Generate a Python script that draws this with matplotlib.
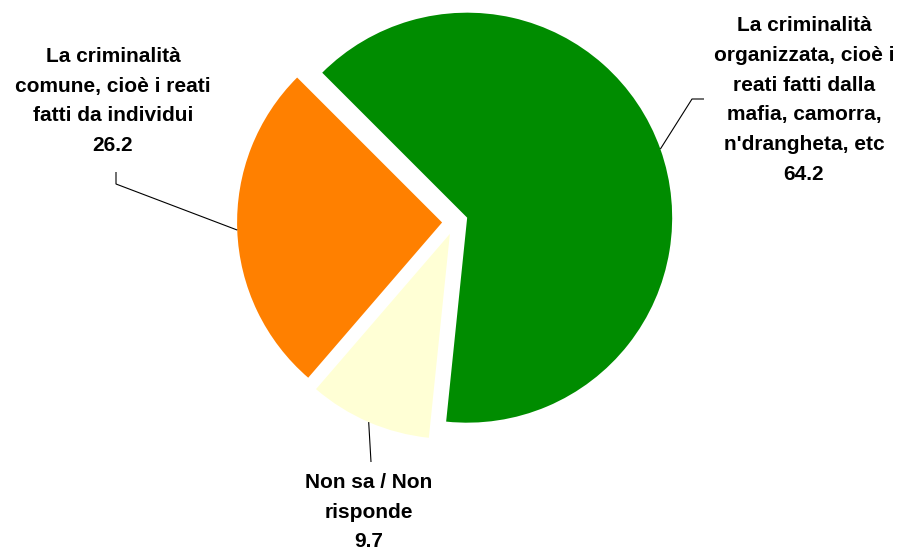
import numpy as np
import matplotlib
matplotlib.use("Agg")
import matplotlib.pyplot as plt

categories = [
    "La criminalità\norganizzata, cioè i\nreati fatti dalla\nmafia, camorra,\nn'drangheta, etc",
    "Non sa / Non\nrisponde",
    "La criminalità\ncomune, cioè i reati\nfatti da individui",
]
values = [64.2, 9.7, 26.2]
value_labels = ["64.2", "9.7", "26.2"]
colors = ["#008C00", "#FFFFD5", "#FF8000"]

W, H = 902, 553
fig = plt.figure(figsize=(W / 100, H / 100), dpi=100)
ax = fig.add_axes([0, 0, 1, 1])

wedges, _ = ax.pie(values, colors=colors, startangle=135, counterclock=False,
                   explode=[0.063] * 3, radius=1.0, center=(0, 0),
                   wedgeprops=dict(linewidth=0))

# pixel -> data mapping (radius 1 == 205 px, pie centre at px (455, 222))
R_PX = 205.0
CX, CY = 455.0, 222.0
ax.set_aspect("auto")
ax.set_xlim(-CX / R_PX, (W - CX) / R_PX)
ax.set_ylim((CY - H) / R_PX, CY / R_PX)
ax.axis("off")

def px(x, y):
    return ((x - CX) / R_PX, (CY - y) / R_PX)

font = dict(family=["Liberation Sans", "DejaVu Sans"], fontweight="bold",
            fontsize=15, color="black", ha="center", va="center", linespacing=1.71)

# label anchor (text centre) and leader elbow/endpoint in pixels
label_pos = [(804, 100), (369, 512), (113, 101)]
leader_pts = [[(692, 99), (704, 99)], [(371, 462)], [(116, 184), (116, 172)]]

for w, cat, vl, lp, pts in zip(wedges, categories, value_labels, label_pos, leader_pts):
    mid = np.deg2rad((w.theta1 + w.theta2) / 2)
    cx, cy = w.center
    start = (cx + w.r * np.cos(mid), cy + w.r * np.sin(mid))
    xs = [start[0]] + [px(*p)[0] for p in pts]
    ys = [start[1]] + [px(*p)[1] for p in pts]
    ax.plot(xs, ys, color="black", lw=0.8, solid_capstyle="butt")
    tx, ty = px(*lp)
    ax.text(tx, ty, cat + "\n" + vl, **font)

fig.savefig("out.png", dpi=100)
